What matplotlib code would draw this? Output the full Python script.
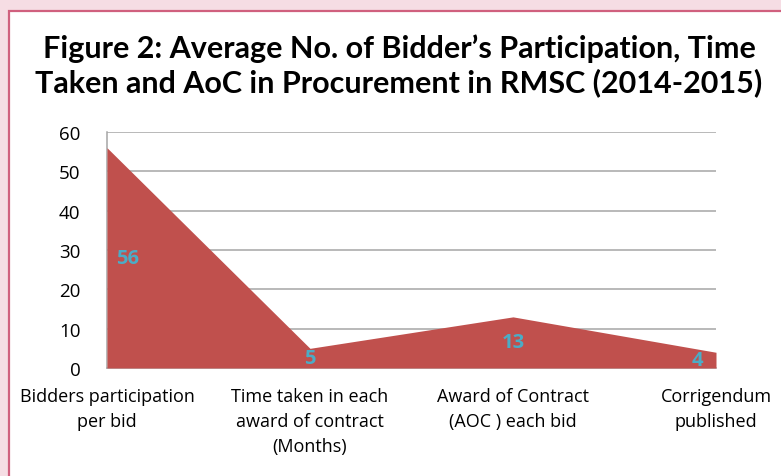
import matplotlib
matplotlib.use("Agg")
import matplotlib.pyplot as plt
from matplotlib.patches import Rectangle

categories = ["Bidders participation\nper bid",
              "Time taken in each\naward of contract\n(Months)",
              "Award of Contract\n(AOC ) each bid",
              "Corrigendum\npublished"]
values = [56, 5, 13, 4]
yticks = [0, 10, 20, 30, 40, 50, 60]
title = "Figure 2: Average No. of Bidder\u2019s Participation, Time\nTaken and AoC in Procurement in RMSC (2014-2015)"

W, H = 781, 477
fig = plt.figure(figsize=(W/100, H/100), dpi=100)
fig.patch.set_facecolor("#f6dde4")

# white panel with pink border
panel = Rectangle((9/W, -0.1), 1.0, (H-12)/H + 0.1, transform=fig.transFigure,
                  facecolor="white", edgecolor="#d0607e", linewidth=1.6, zorder=-10)
fig.patches.append(panel)

fig.text(399/W, 1-66/H, title, ha="center", va="center", fontsize=22,
         fontweight="bold", family=["Lato", "DejaVu Sans"], linespacing=1.2)

ax = fig.add_axes([107/W, 1-369/H, (716-107)/W, (369-133)/H])
ax.set_facecolor("none")
x = list(range(len(values)))
ax.fill_between(x, values, 0, color="#c0504d", linewidth=0, zorder=3)
ax.set_xlim(0, len(values)-1)
ax.set_ylim(0, 60)
ax.set_yticks(yticks)
ax.set_yticklabels([str(t) for t in yticks], fontsize=13.5, family=["Open Sans", "DejaVu Sans"])
ax.yaxis.grid(True, color="#a6a6a6", linewidth=1.1, zorder=1)
ax.set_axisbelow(True)
for s in ["top", "right"]:
    ax.spines[s].set_visible(False)
ax.spines["left"].set_color("#a6a6a6")
ax.spines["bottom"].set_color("#a6a6a6")
ax.spines["left"].set_linewidth(1.1)
ax.spines["bottom"].set_linewidth(1.1)
ax.tick_params(axis="y", length=0, pad=19)
ax.tick_params(axis="x", length=0, pad=14)
ax.set_xticks(x)
ax.set_xticklabels(categories, fontsize=13, family=["Open Sans", "DejaVu Sans"], linespacing=1.5)
labs = ax.get_xticklabels()
labs[-1].set_x(len(values)-1.045)
for lab in labs:
    lab.set_horizontalalignment("center")

offsets = [0.1, 0, 0, -0.09]
for i, v in enumerate(values):
    ax.text(i + offsets[i], v/2, str(v), ha="center", va="center", fontsize=14.5,
            fontweight="bold", color="#4bacc6", family=["Open Sans", "DejaVu Sans"], zorder=5)

fig.savefig("out.png", dpi=100, facecolor=fig.get_facecolor())
